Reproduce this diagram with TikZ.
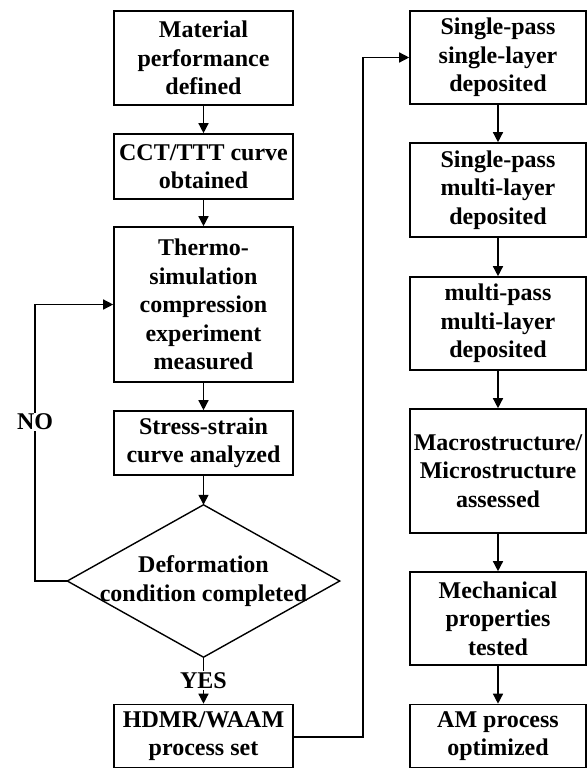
\documentclass[tikz,border=0pt]{standalone}
\usepackage{fontspec}
\setmainfont{Liberation Serif}
\usetikzlibrary{arrows.meta}

\begin{document}
\begin{tikzpicture}[x=1pt, y=-1pt,
    every node/.style={font=\bfseries\fontsize{24}{28.5}\selectfont, align=center, inner sep=0pt},
    boxL/.style={draw, line width=1.6pt, minimum width=179pt},
    boxR/.style={draw, line width=1.6pt, minimum width=176pt},
    flow/.style={line width=1.4pt, -{Triangle[length=10pt,width=10pt]}},
    tag/.style={fill=white, inner sep=1pt}
  ]
  \useasboundingbox (0,0) rectangle (587,768);

  % left column
  \node[boxL, minimum height=94pt]  (b1) at (203.5,58)    {Material\\performance\\defined};
  \node[boxL, minimum height=65pt]  (b2) at (203.5,166.5) {CCT/TTT curve\\obtained};
  \node[boxL, minimum height=155pt] (b3) at (203.5,304.5) {Thermo-\\simulation\\compression\\experiment\\measured};
  \node[boxL, minimum height=64pt]  (b4) at (203.5,443)   {Stress-strain\\curve analyzed};
  \node[minimum width=272pt, minimum height=152pt] (dec) at (203.5,581) {Deformation\\condition completed};
  \draw[line width=1.4pt] (dec.north) -- (dec.east) -- (dec.south) -- (dec.west) -- cycle;
  \node[boxL, minimum height=63pt]  (b5) at (203.5,736)   {HDMR/WAAM\\process set};

  % right column
  \node[boxR, minimum height=93pt]  (r1) at (498,57.5)  {Single-pass\\single-layer\\deposited};
  \node[boxR, minimum height=94pt]  (r2) at (498,190)   {Single-pass\\multi-layer\\deposited};
  \node[boxR, minimum height=93pt]  (r3) at (498,323.5) {multi-pass\\multi-layer\\deposited};
  \node[boxR, minimum height=124pt] (r4) at (498,471)   {Macrostructure/\\Microstructure\\assessed};
  \node[boxR, minimum height=93pt]  (r5) at (498,618.5) {Mechanical\\properties\\tested};
  \node[boxR, minimum height=63pt]  (r6) at (498,736)   {AM process\\optimized};

  % vertical flow, left
  \draw[flow] (b1) -- (b2);
  \draw[flow] (b2) -- (b3);
  \draw[flow] (b3) -- (b4);
  \draw[flow] (b4) -- (dec.north);
  \draw[flow] (dec.south) -- node[tag] (yes) {YES} (b5);

  % loop back on NO
  \coordinate (noA) at (35,581);
  \coordinate (noB) at (35,304.5);
  \draw[flow] (dec.west) -- (noA) -- node[tag, pos=0.575] (no) {NO} (noB) -- (b3.west);

  % link between the two columns
  \coordinate (jA) at (363,737);
  \coordinate (jB) at (363,57.5);
  \draw[flow] (b5.east |- jA) -- (jA) -- (jB) -- (r1.west);

  % vertical flow, right
  \draw[flow] (r1) -- (r2);
  \draw[flow] (r2) -- (r3);
  \draw[flow] (r3) -- (r4);
  \draw[flow] (r4) -- (r5);
  \draw[flow] (r5) -- (r6);
\end{tikzpicture}
\end{document}
